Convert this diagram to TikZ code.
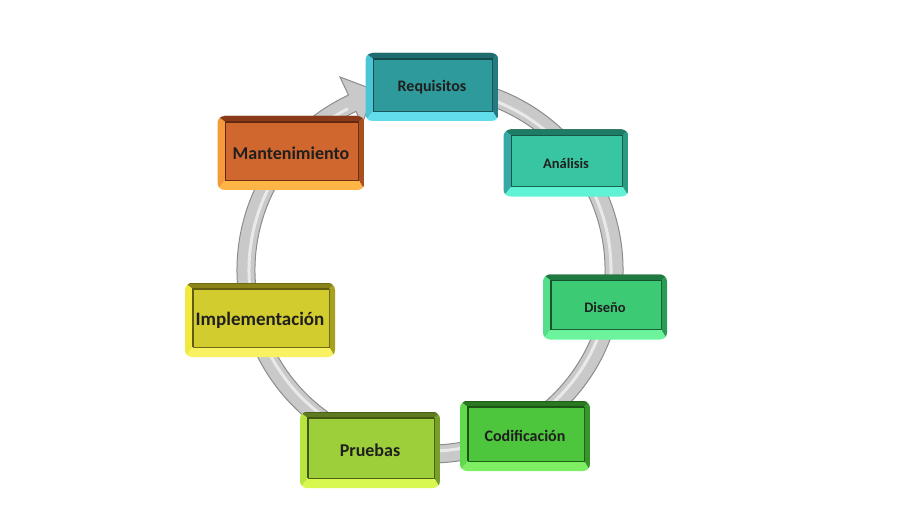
\documentclass[tikz,border=0pt]{standalone}
\usepackage{fontspec}
\setmainfont{Carlito}

% colours: F face, T top, B bottom, L left, R right
\definecolor{reqF}{HTML}{2F9A9C}\definecolor{reqT}{HTML}{1F6C70}\definecolor{reqB}{HTML}{62DDEC}
\definecolor{reqL}{HTML}{4CC6D6}\definecolor{reqR}{HTML}{247A80}
\definecolor{anaF}{HTML}{38C6A2}\definecolor{anaT}{HTML}{1E7C64}\definecolor{anaB}{HTML}{60F2D4}
\definecolor{anaL}{HTML}{36A8A8}\definecolor{anaR}{HTML}{2A9A80}
\definecolor{disF}{HTML}{3CCB74}\definecolor{disT}{HTML}{1E7A40}\definecolor{disB}{HTML}{6CF49C}
\definecolor{disL}{HTML}{55DE8A}\definecolor{disR}{HTML}{2A9A55}
\definecolor{codF}{HTML}{4DC53C}\definecolor{codT}{HTML}{2A7820}\definecolor{codB}{HTML}{7EEE62}
\definecolor{codL}{HTML}{62D84C}\definecolor{codR}{HTML}{36962A}
\definecolor{prbF}{HTML}{9DCF3A}\definecolor{prbT}{HTML}{5E7A1E}\definecolor{prbB}{HTML}{D8F850}
\definecolor{prbL}{HTML}{B8E440}\definecolor{prbR}{HTML}{76A02A}
\definecolor{impF}{HTML}{D2CC2E}\definecolor{impT}{HTML}{8A8418}\definecolor{impB}{HTML}{F8F262}
\definecolor{impL}{HTML}{F0EA40}\definecolor{impR}{HTML}{A8A020}
\definecolor{manF}{HTML}{D0672E}\definecolor{manT}{HTML}{8A3A18}\definecolor{manB}{HTML}{FFB446}
\definecolor{manL}{HTML}{F59A3A}\definecolor{manR}{HTML}{A8501E}
\definecolor{ringfill}{HTML}{C9C9C9}
\definecolor{ringline}{HTML}{8C8C8C}

\newcommand\bevel[1]{%
  \path (path picture bounding box.north west) coordinate (p1)
        (path picture bounding box.north east) coordinate (p2)
        (path picture bounding box.south east) coordinate (p3)
        (path picture bounding box.south west) coordinate (p4);
  \path ([shift={(8pt,-6pt)}]p1) coordinate (q1)
        ([shift={(-6pt,-6pt)}]p2) coordinate (q2)
        ([shift={(-6pt,10pt)}]p3) coordinate (q3)
        ([shift={(8pt,10pt)}]p4) coordinate (q4);
  \fill[sharp corners,#1L] (p1) -- (q1) -- (q4) -- (p4) -- cycle;
  \fill[sharp corners,#1R] (p2) -- (p3) -- (q3) -- (q2) -- cycle;
  \fill[sharp corners,#1T] (p1) -- (p2) -- (q2) -- (q1) -- cycle;
  \fill[sharp corners,#1B] (p4) -- (q4) -- (q3) -- (p3) -- cycle;
  \fill[sharp corners,#1F] (q1) rectangle (q3);
  \draw[sharp corners,#1T!80!black,line width=.8pt] (q1) rectangle (q3);
  \draw[sharp corners,#1T!70!black,line width=1.6pt] (q4) -- (q1) -- (q2);
  \draw[#1T!80!black,line width=1pt] (path picture bounding box.north west) -- (path picture bounding box.north east);
}

\tikzset{
  stage/.style={rounded corners=7pt, inner sep=0pt, text=black!88,
    path picture={\bevel{#1}}},
  fs/.style={font=\bfseries\fontsize{#1}{#1}\selectfont},
}

\begin{document}
\begin{tikzpicture}[x=1pt,y=1pt]
  \useasboundingbox (0,0) rectangle (899,523);

  % ring with arrow
  \begin{scope}[shift={(430,253)}]
    \filldraw[ringline,fill=ringfill,line width=1pt]
      (80:193) arc[start angle=80, end angle=-245, radius=193]
      -- (-245:213) -- (-253:188) -- (-245:161)
      -- (-245:175) arc[start angle=-245, end angle=80, radius=175] -- cycle;
    \draw[white,opacity=.6,line width=3pt]
      (80:181) arc[start angle=80, end angle=-243, radius=181];
  \end{scope}

  % stages
  \node[stage=req, fs=16, minimum width=133pt, minimum height=68pt] (req) at (432,436) {Requisitos};
  \node[stage=ana, fs=14.5, minimum width=125pt, minimum height=67pt] (ana) at (566,360) {Análisis};
  \node[stage=dis, fs=14.5, minimum width=124pt, minimum height=65pt] (dis) at (605,216) {Diseño};
  \node[stage=cod, fs=16, minimum width=130pt, minimum height=70pt] (cod) at (525,87) {Codificación};
  \node[stage=prb, fs=18, minimum width=140pt, minimum height=76pt] (prb) at (370,73) {Pruebas};
  \node[stage=imp, fs=19, minimum width=150pt, minimum height=74pt] (imp) at (260,203) {Implementación};
  \node[stage=man, fs=18, minimum width=147pt, minimum height=74pt] (man) at (291,370) {Mantenimiento};
\end{tikzpicture}
\end{document}
